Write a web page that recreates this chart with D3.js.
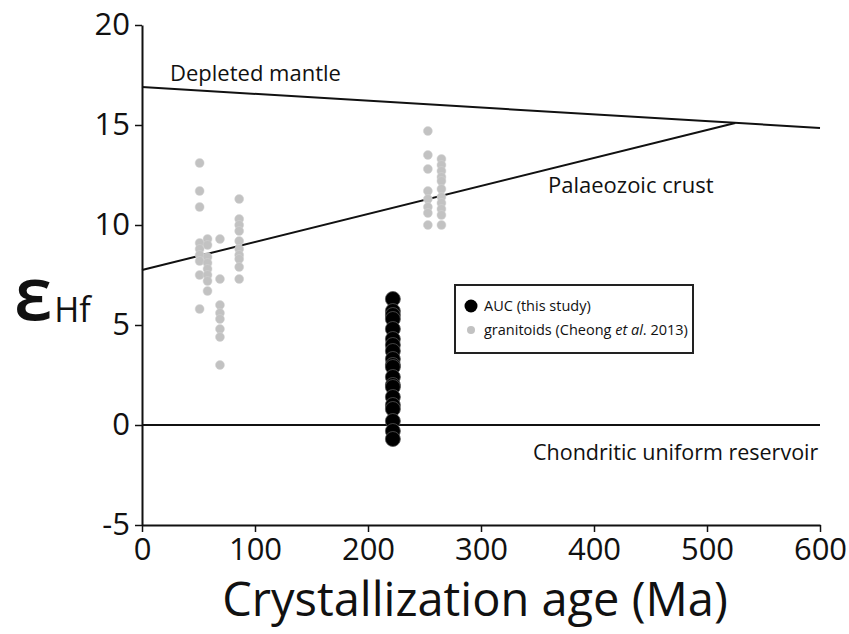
<!DOCTYPE html>
<html>
<head>
<meta charset="utf-8">
<script src="https://cdn.jsdelivr.net/npm/d3@7"></script>
<style>
  body { margin: 0; background: #fff; }
  svg text { font-family: "Open Sans", "Noto Sans", sans-serif; fill: #111; }
</style>
</head>
<body>
<div id="chart"></div>
<script>
// Granitoids (Cheong et al. 2013): age (Ma) and eHf, one column per sample
const graniteAges = [51, 51, 51, 51, 51, 51, 51, 51, 51,
  58, 58, 58, 58, 58, 58, 58, 58,
  69, 69, 69, 69, 69, 69, 69, 69,
  86, 86, 86, 86, 86, 86, 86, 86, 86, 86,
  253, 253, 253, 253, 253, 253, 253, 253,
  265, 265, 265, 265, 265, 265, 265, 265, 265, 265, 265];
const graniteHf = [13.1, 11.7, 10.9, 9.1, 8.8, 8.5, 8.2, 7.5, 5.8,
  9.3, 9.0, 8.4, 8.1, 7.8, 7.5, 7.2, 6.7,
  9.3, 7.3, 6.0, 5.6, 5.3, 4.8, 4.4, 3.0,
  11.3, 10.3, 10.0, 9.7, 9.2, 8.8, 8.5, 8.3, 7.9, 7.3,
  14.7, 13.5, 12.8, 11.7, 11.3, 10.9, 10.6, 10.0,
  13.3, 13.0, 12.7, 12.4, 12.2, 11.8, 11.4, 11.1, 10.8, 10.5, 10.0];

// AUC (this study)
const aucAge = 222;
const aucHf = [6.3, 5.7, 5.5, 5.3, 4.8, 4.3, 4.0, 3.7, 3.3, 3.0, 2.9, 2.4,
  2.0, 1.9, 1.4, 1.0, 0.8, 0.2, -0.3, -0.7];

// reference lines: [age, eHf] endpoints
const depletedMantle = [[0, 16.9], [600, 14.85]];
const palaeozoicCrust = [[0, 7.75], [525, 15.1]];
const chur = [[0, 0], [600, 0]];

const xTicks = [0, 100, 200, 300, 400, 500, 600];
const yTicks = [-5, 0, 5, 10, 15, 20];

const width = 849, height = 634;
const svg = d3.select("#chart").append("svg")
  .attr("width", width).attr("height", height);

const x = d3.scaleLinear().domain([0, 600]).range([142, 820]);
const y = d3.scaleLinear().domain([-5, 20]).range([525, 25]);

// axes (plain hyphen for negatives, like the original)
const fmt = (d) => String(d);
const xAxis = svg.append("g")
  .attr("transform", `translate(0,${y(-5)})`)
  .call(d3.axisBottom(x).tickValues(xTicks).tickFormat(fmt).tickSize(7).tickSizeOuter(0).tickPadding(6));
const yAxis = svg.append("g")
  .attr("transform", `translate(${x(0)},0)`)
  .call(d3.axisLeft(y).tickValues(yTicks).tickFormat(fmt).tickSize(7).tickSizeOuter(0).tickPadding(5));

[xAxis, yAxis].forEach((g) => {
  g.select(".domain").attr("stroke", "#111").attr("stroke-width", 2);
  g.selectAll(".tick line").attr("stroke", "#111").attr("stroke-width", 1.5);
  g.selectAll(".tick text").attr("font-size", 31).attr("fill", "#111");
});

// reference lines
const line = d3.line().x((d) => x(d[0])).y((d) => y(d[1]));
[depletedMantle, palaeozoicCrust, chur].forEach((pts) => {
  svg.append("path")
    .attr("d", line(pts))
    .attr("fill", "none")
    .attr("stroke", "#111")
    .attr("stroke-width", 2);
});

// line labels
svg.append("text").attr("x", 170).attr("y", 81).attr("font-size", 22).text("Depleted mantle");
svg.append("text").attr("x", 548).attr("y", 193).attr("font-size", 22).text("Palaeozoic crust");
svg.append("text").attr("x", 533).attr("y", 460).attr("font-size", 21.5).text("Chondritic uniform reservoir");

// granitoid points
svg.append("g")
  .selectAll("circle")
  .data(graniteHf)
  .enter()
  .append("circle")
  .attr("cx", (d, i) => x(graniteAges[i]))
  .attr("cy", (d) => y(d))
  .attr("r", 4.5)
  .attr("fill", "#c2c2c2")
  .attr("stroke", "#d4d4d4")
  .attr("stroke-width", 0.5);

// AUC points
svg.append("g")
  .selectAll("circle")
  .data(aucHf)
  .enter()
  .append("circle")
  .attr("cx", x(aucAge))
  .attr("cy", (d) => y(d))
  .attr("r", 7.5)
  .attr("fill", "#000")
  .attr("stroke", "#555")
  .attr("stroke-width", 0.8);

// legend
const legend = svg.append("g");
legend.append("rect")
  .attr("x", 455).attr("y", 285).attr("width", 238).attr("height", 68)
  .attr("fill", "#fff").attr("stroke", "#222").attr("stroke-width", 2);
legend.append("circle").attr("cx", 471).attr("cy", 306).attr("r", 6.5).attr("fill", "#000");
legend.append("text").attr("x", 484).attr("y", 311).attr("font-size", 14.5).text("AUC (this study)");
legend.append("circle").attr("cx", 471).attr("cy", 330).attr("r", 4).attr("fill", "#c2c2c2");
const lt = legend.append("text").attr("x", 484).attr("y", 335).attr("font-size", 14.5);
lt.append("tspan").text("granitoids (Cheong ");
lt.append("tspan").attr("font-style", "italic").text("et al");
lt.append("tspan").text(". 2013)");

// axis titles
svg.append("text")
  .attr("x", x(300) - 6).attr("y", 616)
  .attr("text-anchor", "middle")
  .attr("font-size", 47)
  .text("Crystallization age (Ma)");

const yt = svg.append("text")
  .attr("x", 14).attr("y", 320)
  .attr("font-size", 74);
yt.append("tspan").attr("font-weight", 600).text("ε");
yt.append("tspan").attr("font-size", 34).attr("dx", 2).attr("dy", 2).text("Hf");
</script>
</body>
</html>
